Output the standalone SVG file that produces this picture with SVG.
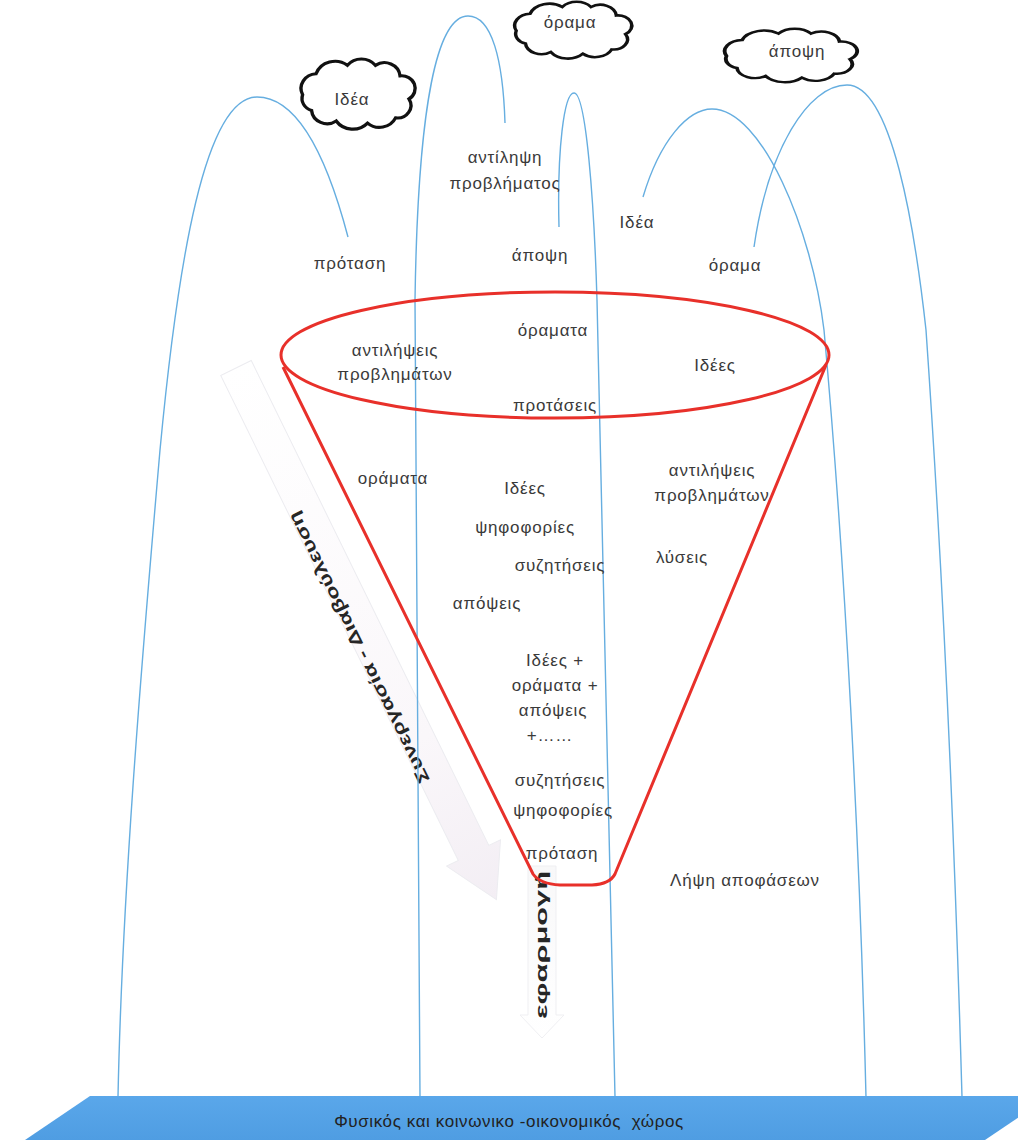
<svg xmlns="http://www.w3.org/2000/svg" xmlns:xlink="http://www.w3.org/1999/xlink" width="1018" height="1140" viewBox="0 0 1018 1140">
<style>
.t{font-family:"Liberation Sans","Noto Sans",sans-serif;font-size:17px;fill:#3a3a3a;text-anchor:middle;letter-spacing:0.8px}
.b{font-family:"Liberation Sans","Noto Sans",sans-serif;font-size:17px;font-weight:bold;fill:#262626;text-anchor:middle}
.arc{fill:none;stroke:#66aee0;stroke-width:1.4}
.red{fill:none;stroke:#e8302a;stroke-width:3}
.cl{fill:#fff;stroke:#111;stroke-width:3;vector-effect:non-scaling-stroke}
</style>
<defs>
<path id="cloud" d="M-45,-5 a14 14 0 0 1 12,-20 a18 18 0 0 1 28,-8 a16 16 0 0 1 25,0 a14 14 0 0 1 22,10 a12 12 0 0 1 8,22 a12 12 0 0 1 -12,18 a16 16 0 0 1 -25,5 a18 18 0 0 1 -28,-2 a14 14 0 0 1 -22,-10 a12 12 0 0 1 -8,-15 z"/>
<linearGradient id="ag" x1="0" y1="0" x2="1" y2="0">
<stop offset="0" stop-color="#ffffff"/>
<stop offset="0.7" stop-color="#faf7fa"/>
<stop offset="1" stop-color="#f3eef4"/>
</linearGradient>
<linearGradient id="vg" x1="0" y1="0" x2="0" y2="1">
<stop offset="0" stop-color="#f8f8f9"/>
<stop offset="1" stop-color="#ffffff"/>
</linearGradient>
<linearGradient id="bar" x1="0" y1="0" x2="0" y2="1">
<stop offset="0" stop-color="#5aa7ea"/>
<stop offset="1" stop-color="#4f9de2"/>
</linearGradient>
</defs>

<g id="arrow-cooperation">
<g transform="translate(236,368) rotate(63.9)">
<polygon points="0,-17 540,-17 540,-30 592,0 540,30 540,17 0,17" fill="url(#ag)" stroke="#ececf0" stroke-width="1"/>
</g>
<text class="b" transform="translate(364,645) rotate(-116.1)" textLength="300" lengthAdjust="spacingAndGlyphs">Συνεργασία - Διαβούλευση</text>
</g>

<g id="arrow-application">
<polygon points="528,866 556,866 556,1015 564,1015 542,1038 520,1015 528,1015" fill="url(#vg)" stroke="#efeff2" stroke-width="1"/>
<text class="b" transform="translate(547,945) rotate(-90)" style="font-size:16px" textLength="148" lengthAdjust="spacingAndGlyphs">εφαρμογή</text>
</g>

<g id="connectors">
<path class="arc" d="M348,237 C325,150 295,97 257,97 C205,97 178,260 160,450 C140,680 122,900 118,1097"/>
<path class="arc" d="M505,123 C503,60 492,16 468,16 C438,16 418,100 415,300 L420,1097"/>
<path class="arc" d="M559,227 C557,150 564,93 574,93 C586,93 594,200 597,300 L615,1097"/>
<path class="arc" d="M643,197 C660,140 688,109 712,109 C762,109 812,230 824,330 C845,560 860,850 866,1097"/>
<path class="arc" d="M754,247 C768,150 808,85 847,85 C892,85 915,230 926,330 C942,560 955,850 962,1097"/>
</g>

<g id="funnel">
<ellipse class="red" cx="555" cy="355" rx="274" ry="63"/>
<path class="red" d="M283,367 L533,874 Q540,884 560,885 L592,885 Q610,884 615,874 L826,365"/>
</g>

<g id="cloud-idea">
<use href="#cloud" class="cl" transform="translate(353,100) scale(1.12,1.05)"/>
<text class="t" x="352" y="105">Ιδέα</text>
</g>
<g id="cloud-orama">
<use href="#cloud" class="cl" transform="translate(568,35) scale(1.15,0.85)"/>
<text class="t" x="570" y="28">όραμα</text>
</g>
<g id="cloud-apopsi">
<use href="#cloud" class="cl" transform="translate(785,60) scale(1.3,0.8)"/>
<text class="t" x="797" y="57">άποψη</text>
</g>

<g id="labels">
<text class="t" x="505" y="163">αντίληψη</text>
<text class="t" x="505" y="189">προβλήματος</text>
<text class="t" x="350" y="269">πρόταση</text>
<text class="t" x="540" y="261">άποψη</text>
<text class="t" x="637" y="228">Ιδέα</text>
<text class="t" x="735" y="271">όραμα</text>
<text class="t" x="553" y="336">όραματα</text>
<text class="t" x="395" y="356">αντιλήψεις</text>
<text class="t" x="395" y="380">προβλημάτων</text>
<text class="t" x="715" y="371">Ιδέες</text>
<text class="t" x="555" y="411">προτάσεις</text>
<text class="t" x="393" y="484">οράματα</text>
<text class="t" x="525" y="494">Ιδέες</text>
<text class="t" x="712" y="476">αντιλήψεις</text>
<text class="t" x="712" y="501">προβλημάτων</text>
<text class="t" x="525" y="533">ψηφοφορίες</text>
<text class="t" x="560" y="571">συζητήσεις</text>
<text class="t" x="682" y="563">λύσεις</text>
<text class="t" x="487" y="609">απόψεις</text>
<text class="t" x="555" y="666">Ιδέες +</text>
<text class="t" x="555" y="691">οράματα +</text>
<text class="t" x="553" y="716">απόψεις</text>
<text class="t" x="550" y="741">+……</text>
<text class="t" x="560" y="786">συζητήσεις</text>
<text class="t" x="563" y="816">ψηφοφορίες</text>
<text class="t" x="562" y="859">πρόταση</text>
<text class="t" x="745" y="886">Λήψη αποφάσεων</text>
</g>

<g id="ground">
<polygon points="90,1096 1050,1096 985,1140 25,1140" fill="url(#bar)"/>
<text class="t" x="509" y="1127" style="font-size:17px;fill:#222;letter-spacing:0.6px" xml:space="preserve">Φυσικός και κοινωνικο -οικονομικός  χώρος</text>
</g>
</svg>
